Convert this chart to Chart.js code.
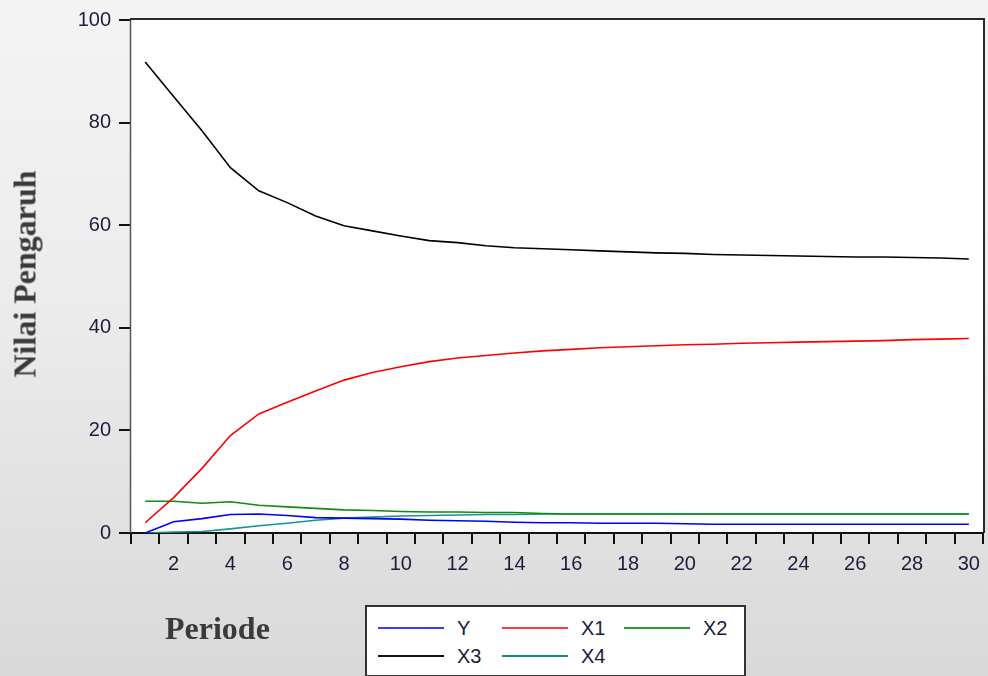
<!DOCTYPE html>
<html>
<head>
<meta charset="utf-8">
<script src="https://cdn.jsdelivr.net/npm/chart.js@4.4.1/dist/chart.umd.min.js"></script>
<style>
  html, body { margin:0; padding:0; }
  body { width:988px; height:676px; overflow:hidden; position:relative;
         background: linear-gradient(#f4f4f4 0%, #ececec 45%, #d9d9d9 100%); }
  #wrap { position:absolute; left:0; top:0; width:988px; height:676px; }
  .ttl { position:absolute; font-family:"Liberation Serif","Times New Roman",serif; font-weight:bold;
         color:#3a3a3a; font-size:32px; white-space:nowrap; }
  #ytitle { left:25px; top:274px; transform:translate(-50%,-50%) rotate(-90deg); }
  #xtitle { left:165px; top:628px; transform:translateY(-50%); }
  #legend { position:absolute; left:365px; top:605px; width:381px; height:72px; box-sizing:border-box;
            border:2px solid #333; background:#fff; }
  .li { position:absolute; height:24px; }
  .li .ln { position:absolute; top:11px; left:0; width:66px; height:2px; }
  .li .tx { position:absolute; top:0; left:79px; font-family:"Liberation Sans",Arial,sans-serif;
            font-size:20px; line-height:24px; color:#1c1c3c; }
</style>
</head>
<body>
<div id="wrap"><canvas id="c" width="988" height="676"></canvas></div>
<div class="ttl" id="ytitle">Nilai Pengaruh</div>
<div class="ttl" id="xtitle">Periode</div>
<div id="legend"></div>
<script>
// ---- data ----
const periods = [1,2,3,4,5,6,7,8,9,10,11,12,13,14,15,16,17,18,19,20,21,22,23,24,25,26,27,28,29,30];
const yTicks = [0,20,40,60,80,100];
const seriesNames = ["Y","X1","X2","X3","X4"];
const seriesColors = ["#0000ff","#ff0000","#128a12","#000000","#169494"];
const legendColors = ["#3b3bff","#ff3b3b","#2f9a2f","#111111","#1a8a80"];
const Y  = [0.0,2.2,2.8,3.6,3.7,3.4,3.0,2.9,2.8,2.7,2.5,2.4,2.3,2.1,2.0,2.0,1.9,1.9,1.9,1.8,1.7,1.7,1.7,1.7,1.7,1.7,1.7,1.7,1.7,1.7];
const X1 = [2.0,6.9,12.6,19.0,23.2,25.5,27.7,29.8,31.3,32.4,33.4,34.1,34.6,35.1,35.5,35.8,36.1,36.3,36.5,36.7,36.8,37.0,37.1,37.2,37.3,37.4,37.5,37.7,37.8,37.9];
const X2 = [6.2,6.2,5.8,6.1,5.4,5.1,4.8,4.5,4.4,4.2,4.1,4.1,4.0,4.0,3.8,3.7,3.7,3.7,3.7,3.7,3.7,3.7,3.7,3.7,3.7,3.7,3.7,3.7,3.7,3.7];
const X3 = [91.8,85.1,78.4,71.2,66.7,64.4,61.8,59.9,58.9,57.9,57.0,56.6,56.0,55.6,55.4,55.2,55.0,54.8,54.6,54.5,54.3,54.2,54.1,54.0,53.9,53.8,53.8,53.7,53.6,53.4];
const X4 = [0.0,0.2,0.3,0.8,1.4,1.9,2.5,2.9,3.1,3.3,3.4,3.5,3.6,3.6,3.7,3.7,3.7,3.7,3.7,3.7,3.7,3.7,3.7,3.7,3.7,3.7,3.7,3.7,3.7,3.7];
const seriesData = [Y, X1, X2, X3, X4];

const tickFont = { family: "'Liberation Sans', Arial, sans-serif", size: 20 };
const tickColor = "#1c1c3c";

const plotFrame = {
  id: 'plotFrame',
  beforeDraw(chart) {
    const a = chart.chartArea, ctx = chart.ctx;
    ctx.save();
    ctx.fillStyle = '#ffffff';
    ctx.fillRect(a.left, a.top, a.right - a.left, a.bottom - a.top);
    ctx.restore();
  },
  afterDraw(chart) {
    const a = chart.chartArea, ctx = chart.ctx;
    ctx.save();
    ctx.strokeStyle = '#555';
    ctx.lineWidth = 1.5;
    ctx.beginPath(); ctx.moveTo(a.left - 0.5, a.top - 1); ctx.lineTo(a.left - 0.5, a.bottom); ctx.stroke();
    ctx.strokeStyle = '#2a2a2a';
    ctx.lineWidth = 2;
    ctx.beginPath();
    ctx.moveTo(a.left - 1, a.top - 1); ctx.lineTo(a.right + 1, a.top - 1); ctx.lineTo(a.right + 1, a.bottom);
    ctx.stroke();
    ctx.restore();
  }
};

new Chart(document.getElementById('c'), {
  type: 'line',
  data: {
    labels: periods,
    datasets: seriesNames.map((n, i) => ({
      label: n, data: seriesData[i], borderColor: seriesColors[i], backgroundColor: seriesColors[i],
      borderWidth: 1.6, pointRadius: 0, tension: 0, fill: false
    }))
  },
  options: {
    responsive: false, animation: false, devicePixelRatio: 1,
    layout: { padding: { left: 0, top: 19, right: 4, bottom: 0 } },
    plugins: { legend: { display: false }, tooltip: { enabled: false } },
    scales: {
      x: {
        type: 'category', offset: true,
        grid: { offset: true, drawOnChartArea: false, drawTicks: true, tickLength: 11, color: '#111', lineWidth: 2 },
        border: { display: true, color: '#111', width: 2 },
        ticks: { autoSkip: false, maxRotation: 0, minRotation: 0, padding: 8, color: tickColor, font: tickFont,
                 callback: function(v, i) { const p = periods[i]; return p % 2 === 0 ? String(p) : ''; } },
        afterFit(s) { s.height = 143; }
      },
      y: {
        min: yTicks[0], max: yTicks[yTicks.length - 1],
        afterBuildTicks(s) { s.ticks = yTicks.map(v => ({ value: v })); },
        grid: { drawOnChartArea: false, drawTicks: true, tickLength: 12, color: '#111', lineWidth: 2 },
        border: { display: false },
        ticks: { padding: 8, color: tickColor, font: tickFont },
        afterFit(s) { s.width = 131; }
      }
    }
  },
  plugins: [plotFrame]
});

// HTML legend built from the series arrays
const lg = document.getElementById('legend');
const pos = [[11,9],[135,9],[257,9],[11,37],[135,37]];
seriesNames.forEach((n, i) => {
  const d = document.createElement('div');
  d.className = 'li';
  d.style.left = pos[i][0] + 'px'; d.style.top = pos[i][1] + 'px';
  d.innerHTML = '<div class="ln" style="background:' + legendColors[i] + '"></div><div class="tx">' + n + '</div>';
  lg.appendChild(d);
});
</script>
</body>
</html>
